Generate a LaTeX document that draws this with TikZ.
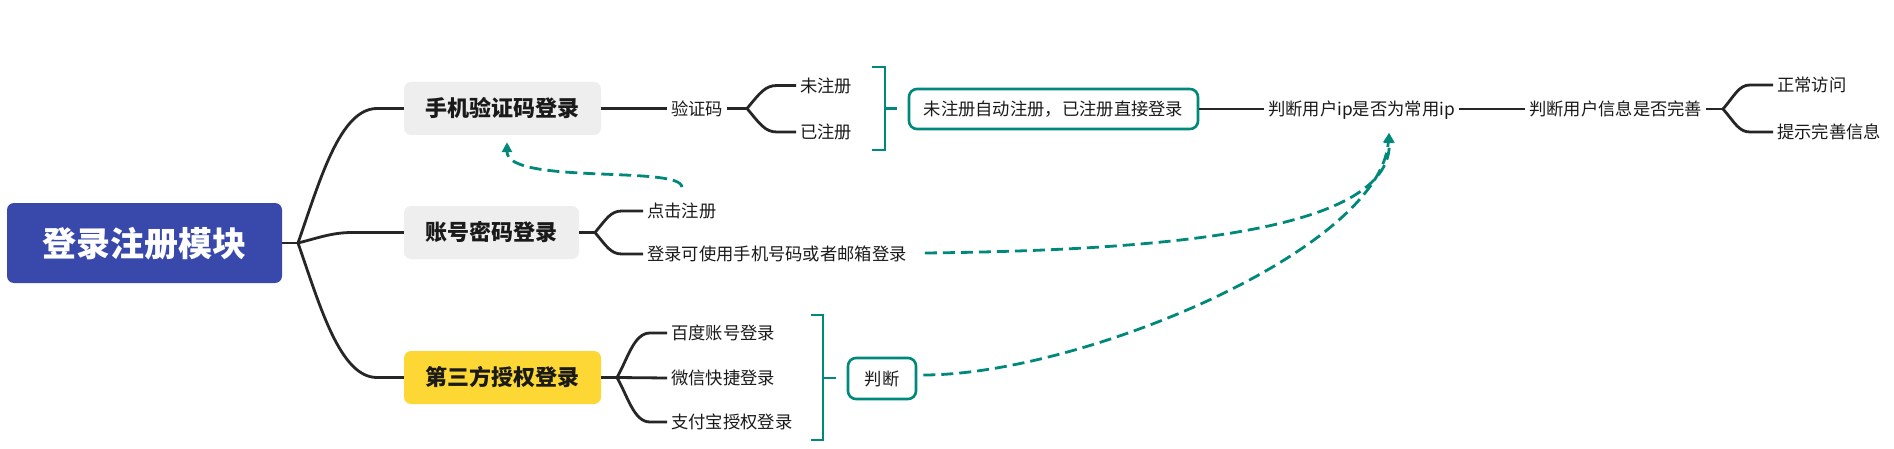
\documentclass[tikz,border=0pt]{standalone}
\usepackage{fontspec}
\setmainfont{Noto Sans CJK SC}
\usetikzlibrary{arrows.meta}
\definecolor{linec}{HTML}{262626}
\definecolor{tealc}{RGB}{0,137,123}
\definecolor{grayf}{HTML}{EEEEEE}
\definecolor{yellowf}{HTML}{FDD835}
\definecolor{bluef}{HTML}{3949AB}
\definecolor{txtc}{HTML}{1A1A1A}
\tikzset{
  conn/.style={draw=linec, line width=2.8pt},
  tealline/.style={draw=tealc, line width=2.8pt},
  dasharrow/.style={draw=tealc, line width=2.8pt, dash pattern=on 12pt off 6pt,
     -{Triangle[length=10pt,width=10pt]}},
  rootbox/.style={fill=bluef, rounded corners=7pt, minimum width=275pt, minimum height=80pt,
     inner sep=0pt, text=white, font=\fontsize{34}{40}\selectfont\bfseries,
     text height=30pt, text depth=4pt},
  lvone/.style={rounded corners=7pt, minimum height=53pt, inner xsep=21.5pt, inner ysep=0pt,
     text=txtc, font=\fontsize{22}{26}\selectfont\bfseries, text height=19.4pt, text depth=2.6pt},
  txt/.style={anchor=west, inner xsep=4pt, inner ysep=2pt, text=txtc,
     font=\fontsize{17.3}{21}\selectfont, text height=15.2pt, text depth=2.1pt},
  tbox/.style={draw=tealc, line width=2.6pt, rounded corners=8pt, fill=white,
     inner sep=0pt, text=txtc, font=\fontsize{17.3}{21}\selectfont,
     text height=15.2pt, text depth=2.1pt}
}
\begin{document}
\begin{tikzpicture}[x=1pt,y=-1pt]
\fill[white] (0,0) rectangle (1894,449);
\useasboundingbox (0,0) rectangle (1894,449);

% nodes
\node[rootbox] (root) at (144.5,243) {登录注册模块};
\node[lvone, fill=grayf] (sj) at (502.5,108.5) {手机验证码登录};
\node[lvone, fill=grayf] (zh) at (491.5,232.5) {账号密码登录};
\node[lvone, fill=yellowf] (dsf) at (502.5,377.5) {第三方授权登录};

\node[txt] (yzm) at (667,108.5) {验证码};
\node[txt] (wzc) at (796,85.5) {未注册};
\node[txt] (yzc) at (796,132) {已注册};
\node[tbox, minimum width=289pt, minimum height=40pt] (auto) at (1053.5,109) {未注册自动注册，已注册直接登录};
\node[txt] (pip) at (1264,109) {判断用户ip是否为常用ip};
\node[txt] (pxx) at (1525,109) {判断用户信息是否完善};
\node[txt] (zc) at (1773,85) {正常访问};
\node[txt] (ts) at (1773,132) {提示完善信息};

\node[txt] (dj) at (643,211) {点击注册};
\node[txt] (dl) at (643,254) {登录可使用手机号码或者邮箱登录};

\node[txt] (bd) at (667,333) {百度账号登录};
\node[txt] (wx) at (667,378) {微信快捷登录};
\node[txt] (zfb) at (667,422) {支付宝授权登录};
\node[tbox, minimum width=68pt, minimum height=41pt] (pd) at (882,378.5) {判断};

% junctions
\coordinate (j0) at (298,243);
\coordinate (j1) at (747,108.5);
\coordinate (j2) at (595,232.5);
\coordinate (j3) at (617,377.5);
\coordinate (j4) at (1723,109);

% root branches
\draw[conn] (root.east) -- (j0);
\draw[conn] (j0) .. controls (320,180) and (340,108.5) .. (377,108.5) -- (sj.west);
\draw[conn] (j0) .. controls (318,238) and (332,232.5) .. (352,232.5) -- (zh.west);
\draw[conn] (j0) .. controls (320,306) and (340,377.5) .. (377,377.5) -- (dsf.west);

% phone branch
\draw[conn] (sj.east) -- (yzm.west);
\draw[conn] (yzm.east) -- (j1);
\draw[conn] (j1) .. controls (760,93) and (765,85.5) .. (777,85.5) -- (wzc.west);
\draw[conn] (j1) .. controls (760,124) and (765,132) .. (777,132) -- (yzc.west);
\draw[tealline] (872,67) -- (885,67) -- (885,150) -- (872,150);
\draw[tealline] (885,108.5) -- (897,108.5);
\draw[conn] (auto.east) -- (pip.west);
\draw[conn] (pip.east) -- (pxx.west);
\draw[conn] (pxx.east) -- (j4);
\draw[conn] (j4) .. controls (1735,95) and (1739,85) .. (1750,85) -- (zc.west);
\draw[conn] (j4) .. controls (1735,123) and (1739,132) .. (1750,132) -- (ts.west);

% account branch
\draw[conn] (zh.east) -- (j2);
\draw[conn] (j2) .. controls (607,218) and (611,211) .. (622,211) -- (dj.west);
\draw[conn] (j2) .. controls (607,247) and (611,254) .. (622,254) -- (dl.west);

% third-party branch
\draw[conn] (dsf.east) -- (j3);
\draw[conn] (j3) .. controls (628,358) and (634,333) .. (650,333) -- (bd.west);
\draw[conn] (j3) -- (wx.west);
\draw[conn] (j3) .. controls (628,397) and (634,422) .. (650,422) -- (zfb.west);
\draw[tealline] (811,315) -- (823,315) -- (823,440) -- (811,440);
\draw[tealline] (823,378) -- (836,378);

% dashed arrows
\draw[dasharrow] ([yshift=13pt]dj.north) .. controls +(0,-22) and +(0,43) .. ([xshift=4.5pt,yshift=-7pt]sj.south);
\draw[dasharrow] ([xshift=14pt,yshift=1pt]dl.east) .. controls (1200,250) and (1392,225) .. ([xshift=27.5pt,yshift=-13pt]pip.south);
\draw[dasharrow] ([xshift=6pt,yshift=3.5pt]pd.east) .. controls (1080,375) and (1380,250) .. ([xshift=27.5pt,yshift=-13pt]pip.south);
\end{tikzpicture}
\end{document}
